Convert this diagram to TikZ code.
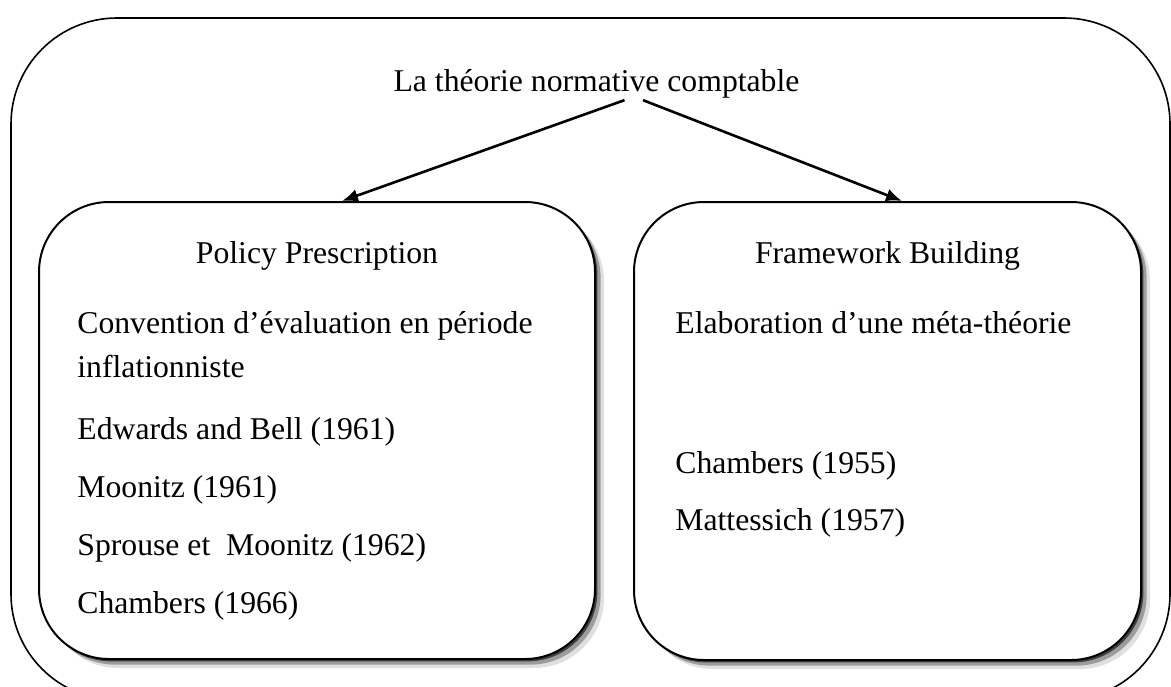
\documentclass[tikz,border=0pt]{standalone}
\usepackage{fontspec}
\setmainfont{Liberation Serif}
\usepackage{tikz}
\usetikzlibrary{arrows.meta, positioning, shadows, calc}

\begin{document}
\begin{tikzpicture}[
    x=0.5pt, y=-0.5pt,
    font=\fontsize{15.85}{19}\selectfont,
    outer/.style={draw, line width=0.8pt, rounded corners=53pt},
    block/.style={rectangle, draw, fill=white, line width=1pt, rounded corners=35pt,
        drop shadow={shadow xshift=1.2pt, shadow yshift=-1.2pt, fill=black, opacity=.6},
        drop shadow={shadow xshift=2.8pt, shadow yshift=-2.8pt, fill=black, opacity=.3},
        drop shadow={shadow xshift=4.5pt, shadow yshift=-4.5pt, fill=black, opacity=.12}},
    head/.style={inner sep=0pt, anchor=base},
    txt/.style={inner sep=0pt, anchor=base west},
    line/.style={draw, -{Latex[length=8pt, width=6.5pt]}, line width=1.3pt}
]
    \useasboundingbox (0,0) rectangle (1171,686);
    % Frame
    \draw [outer] (11,18) rectangle (1170,700);

    % Nodes
    \node [head] (theory) at (596.5,91) {La théorie normative comptable};

    \node [block, minimum width=278pt, minimum height=228.5pt] (policy) at (317,430.5) {};
    \node [block, minimum width=253.5pt, minimum height=229pt] (building) at (887.5,431) {};

    \node [head] (polhead) at (317,263) {Policy Prescription};
    \node [head] (bldhead) at (887.5,263) {Framework Building};

    \node [txt] (conv) at (77,333) {Convention d’évaluation en période};
    \node [txt, below=22pt of conv.base west, anchor=base west] (infl) {inflationniste};
    \node [txt, below=31pt of infl.base west, anchor=base west] (edw) {Edwards and Bell (1961)};
    \node [txt, below=29pt of edw.base west, anchor=base west] (moon) {Moonitz (1961)};
    \node [txt, below=29pt of moon.base west, anchor=base west] (spr) {Sprouse et\ \ Moonitz (1962)};
    \node [txt, below=29pt of spr.base west, anchor=base west] (ch66) {Chambers (1966)};

    \node [txt] (elab) at (675,333) {Elaboration d’une méta-théorie};
    \node [txt, below=70pt of elab.base west, anchor=base west] (ch55) {Chambers (1955)};
    \node [txt, below=28.5pt of ch55.base west, anchor=base west] (matt) {Mattessich (1957)};

    % Paths
    \path [line] ($(theory.south)+(28,2)$) -- ($(policy.north)+(25,0)$);
    \path [line] ($(theory.south)+(46.5,2)$) -- ($(building.north)+(14.5,0)$);

\end{tikzpicture}
\end{document}
